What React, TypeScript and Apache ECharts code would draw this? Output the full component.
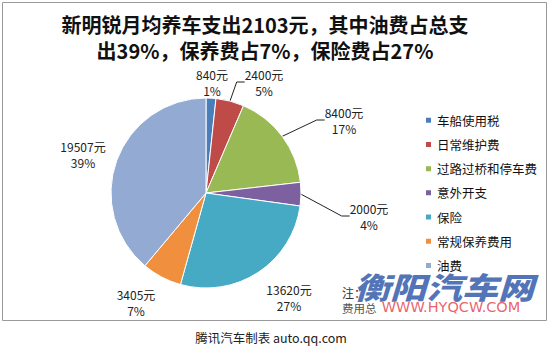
import React, { useEffect, useRef } from "react";
import * as echarts from "echarts";

const categories = ["车船使用税", "日常维护费", "过路过桥和停车费", "意外开支", "保险", "常规保养费用", "油费"];
const values = [840, 2400, 8400, 2000, 13620, 3405, 19507];
const percentLabels = ["1%", "5%", "17%", "4%", "27%", "7%", "39%"];
const hasLeader = [false, true, true, true, false, false, false];

const colors = ["#4a7ebb", "#be4b48", "#98b954", "#7d60a0", "#46aac5", "#f0903f", "#93aad3"];
const labelPos: [number, number][] = [
  [212, 82], [264, 82], [344, 120], [369, 216], [289, 297], [136, 302], [83, 154],
];

const FONT = "'Noto Sans CJK SC', 'Noto Sans', sans-serif";

export default function App() {
  const ref = useRef<HTMLDivElement>(null);
  useEffect(() => {
    if (!ref.current) return;
    const chart = echarts.init(ref.current, undefined, { renderer: "svg" });
    chart.setOption({
      animation: false,
      backgroundColor: "#fff",
      color: colors,
      textStyle: { fontFamily: FONT },
      title: {
        text: "新明锐月均养车支出2103元，其中油费占总支\n出39%，保养费占7%，保险费占27%",
        left: 260,
        top: 6,
        textAlign: "center",
        textStyle: { fontSize: 20, fontWeight: "bold", color: "#111", lineHeight: 26.5, fontFamily: FONT },
      },
      legend: {
        orient: "vertical",
        left: 419,
        top: 108,
        icon: "rect",
        itemWidth: 7,
        itemHeight: 7,
        itemGap: 9.7,
        textStyle: { fontSize: 12.5, color: "#111", lineHeight: 14.5, fontFamily: FONT },
        data: categories,
      },
      graphic: [
        { type: "rect", shape: { x: 2.5, y: 2.5, width: 544, height: 318 }, style: { fill: "none", stroke: "#999", lineWidth: 1 }, z: 0 },
        { type: "text", x: 342, y: 292, style: { text: "注：", fontSize: 12, fill: "#333", verticalAlign: "middle", fontFamily: FONT }, z: 5 },
        { type: "text", x: 342, y: 308, style: { text: "费用总", fontSize: 11.5, fill: "#555", verticalAlign: "middle", fontFamily: FONT }, z: 5 },
        { type: "text", x: 444, y: 286, scaleX: 1.2, style: { text: "衡阳汽车网", fontSize: 30, fontStyle: "italic", fontWeight: 900, fill: "rgba(52,92,172,0.85)", align: "center", verticalAlign: "middle", fontFamily: FONT }, z: 6 },
        { type: "text", x: 451, y: 307, style: { text: "WWW.HYQCW.COM", fontSize: 14.5, fill: "rgba(232,80,90,0.9)", align: "center", verticalAlign: "middle", fontFamily: "'DejaVu Sans', sans-serif" }, z: 6 },
        { type: "text", x: 271, y: 337, style: { text: "腾讯汽车制表 auto.qq.com", fontSize: 12.5, fill: "#222", align: "center", verticalAlign: "middle", fontFamily: FONT }, z: 5 },
      ],
      series: [
        {
          type: "pie",
          center: [206, 193],
          radius: 95,
          startAngle: 90,
          clockwise: true,
          avoidLabelOverlap: false,
          itemStyle: { borderColor: "#fff", borderWidth: 1 },
          emphasis: { disabled: true },
          label: {
            show: true,
            position: "outside",
            fontSize: 12,
            lineHeight: 16,
            color: "#222",
            align: "center",
            fontFamily: FONT,
            formatter: (p: any) => p.value + "元\n" + percentLabels[p.dataIndex],
          },
          labelLine: { show: true, length: 10, length2: 8, smooth: false, lineStyle: { color: "#222", width: 1 } },
          labelLayout: (p: any) => ({
            x: labelPos[p.dataIndex][0],
            y: labelPos[p.dataIndex][1],
            align: "center",
            verticalAlign: "middle",
          }),
          data: categories.map((name, i) => ({
            name,
            value: values[i],
            labelLine: { show: hasLeader[i] },
          })),
        },
      ],
    });
    return () => chart.dispose();
  }, []);
  return <div ref={ref} style={{ position: "fixed", left: 0, top: 0, width: 550, height: 352 }} />;
}
